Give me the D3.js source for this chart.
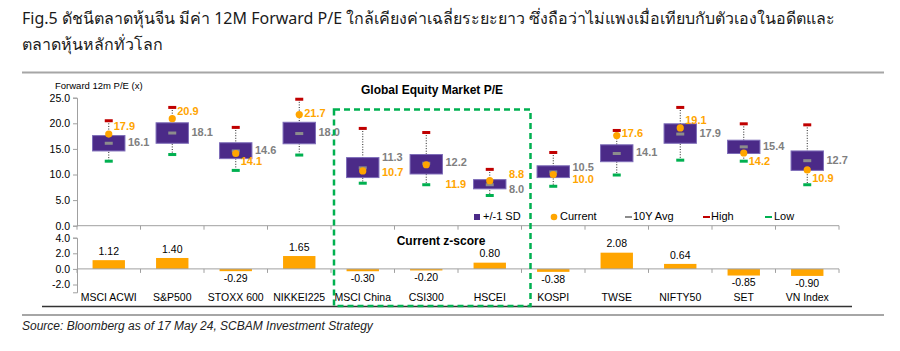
<!DOCTYPE html>
<html>
<head>
<meta charset="utf-8">
<script src="https://cdn.jsdelivr.net/npm/d3@7"></script>
<style>
  body { margin: 0; background: #fff; }
  svg { display: block; font-family: "Liberation Sans", Arial, sans-serif; }
</style>
</head>
<body>
<svg id="chart"></svg>
<script>
// ---- data ----
const categories = ['MSCI ACWI', 'S&P500', 'STOXX 600', 'NIKKEI225', 'MSCI China', 'CSI300',
    'HSCEI', 'KOSPI', 'TWSE', 'NIFTY50', 'SET', 'VN Index'];
const avgPE = [16.1, 18.1, 14.6, 18.0, 11.3, 12.2, 8.0, 10.5, 14.1, 17.9, 15.4, 12.7];
const currentPE = [17.9, 20.9, 14.1, 21.7, 10.7, 11.9, 8.8, 10.0, 17.6, 19.1, 14.2, 10.9];
const sdUpper = [17.6, 20.1, 16.2, 20.2, 13.3, 13.9, 9.0, 11.7, 15.8, 19.9, 16.7, 14.6];
const sdLower = [14.6, 16.1, 13.1, 16.0, 9.4, 10.1, 7.2, 9.4, 12.5, 16.1, 14.1, 10.8];
const highPE = [20.5, 23.1, 19.2, 24.7, 19.0, 18.2, 11.0, 14.3, 18.6, 23.1, 19.9, 19.7];
const lowPE = [12.6, 13.9, 10.8, 13.8, 8.3, 8.0, 5.9, 7.7, 9.9, 12.8, 12.6, 8.0];
const zScore = [1.12, 1.40, -0.29, 1.65, -0.30, -0.20, 0.80, -0.38, 2.08, 0.64, -0.85, -0.90];
const peTicks = [0, 5, 10, 15, 20, 25];
const zTicks = [-2, 0, 2, 4];
const chinaGroup = ['MSCI China', 'CSI300', 'HSCEI'];

// where the data labels sit (like excel's manual label nudges)
const curLabelPlace = ['dot-up', 'dot-up', 'dot-down', 'dot', 'box', 'box-low', 'box-up', 'box-lower',
    'dot', 'dot-up', 'dot-down', 'dot-down'];
const avgLabelPlace = ['mid', 'mid', 'mid', 'mid', 'up', 'mid', 'down', 'raised',
    'mid', 'mid', 'mid', 'mid'];

const W = 900, H = 351;
const purple = '#4b2a88', orange = '#ffa500', grey = '#8c8c8c', red = '#c00000', green = '#00b050';

// excel style hyphen minus instead of d3's unicode minus
const fmt = spec => v => d3.format(spec)(v).replace('\u2212', '-');

const svg = d3.select('#chart').attr('width', W).attr('height', H);

// title
const titleFont = '"Noto Sans", "DejaVu Sans", sans-serif';
svg.append('text').attr('x', 22).attr('y', 24)
    .attr('font-family', titleFont).attr('font-size', 16).attr('fill', '#1a1a1a')
    .text('Fig.5 ดัชนีตลาดหุ้นจีน มีค่า 12M Forward P/E ใกล้เคียงค่าเฉลี่ยระยะยาว ซึ่งถือว่าไม่แพงเมื่อเทียบกับตัวเองในอดีตและ');
svg.append('text').attr('x', 22).attr('y', 50)
    .attr('font-family', titleFont).attr('font-size', 16).attr('fill', '#1a1a1a')
    .text('ตลาดหุ้นหลักทั่วโลก');

// separator lines
svg.append('line').attr('x1', 22).attr('x2', 884).attr('y1', 72.5).attr('y2', 72.5)
    .attr('stroke', '#a6a6a6').attr('stroke-width', 2);
svg.append('line').attr('x1', 22).attr('x2', 884).attr('y1', 315).attr('y2', 315)
    .attr('stroke', '#a6a6a6').attr('stroke-width', 2);

svg.append('text').attr('x', 22).attr('y', 330)
    .attr('font-size', 12).attr('font-style', 'italic').attr('fill', '#222')
    .text('Source: Bloomberg as of 17 May 24, SCBAM Investment Strategy');

// scales
const x = d3.scaleBand().domain(categories).range([77, 839]);
const yPE = d3.scaleLinear().domain([0, 25]).range([225.7, 97.7]);
const yZ = d3.scaleLinear().domain([-3, 4]).range([292.3, 237.7]);

const boxW = x.bandwidth() * 0.51;
const cx = c => x(c) + x.bandwidth() / 2;

// ---------- top panel ----------
const pePanel = svg.append('g');

const yAxisTop = d3.axisLeft(yPE).tickValues(peTicks).tickFormat(fmt('.1f')).tickSize(4);
const gyTop = pePanel.append('g').attr('transform', 'translate(77,0)').call(yAxisTop);
gyTop.selectAll('text').attr('font-size', 10.5).attr('fill', '#000');
gyTop.selectAll('line, path').attr('stroke', '#a0a0a0');

// x axis line with ticks at the band edges
pePanel.append('line').attr('x1', 77).attr('x2', 839).attr('y1', yPE(0)).attr('y2', yPE(0))
    .attr('stroke', '#a0a0a0');
pePanel.selectAll('.edgeTick').data(categories.concat(['end']))
    .join('line')
    .attr('x1', (d, i) => 77 + i * x.bandwidth()).attr('x2', (d, i) => 77 + i * x.bandwidth())
    .attr('y1', yPE(0)).attr('y2', yPE(0) + 4)
    .attr('stroke', '#a0a0a0');

pePanel.append('text').attr('x', 55).attr('y', 89).attr('font-size', 9.5).attr('fill', '#000')
    .text('Forward 12m P/E (x)');
pePanel.append('text').attr('x', 432).attr('y', 94).attr('text-anchor', 'middle')
    .attr('font-size', 12).attr('font-weight', 'bold').attr('fill', '#000')
    .text('Global Equity Market P/E');

const peRows = categories.map((c, i) => ({
    c: c, avg: avgPE[i], cur: currentPE[i], hi: highPE[i], lo: lowPE[i],
    up: sdUpper[i], dn: sdLower[i], curPlace: curLabelPlace[i], avgPlace: avgLabelPlace[i]
}));

// high-low dotted whisker
pePanel.selectAll('.whisker').data(peRows).join('line')
    .attr('x1', d => cx(d.c)).attr('x2', d => cx(d.c))
    .attr('y1', d => yPE(d.hi)).attr('y2', d => yPE(d.lo))
    .attr('stroke', '#222').attr('stroke-width', 1).attr('stroke-dasharray', '1,1.6');

// +/-1 SD box
pePanel.selectAll('.sdbox').data(peRows).join('rect')
    .attr('x', d => cx(d.c) - boxW / 2).attr('width', boxW)
    .attr('y', d => yPE(d.up)).attr('height', d => yPE(d.dn) - yPE(d.up))
    .attr('fill', purple).attr('stroke', '#7d6cb8').attr('stroke-width', 1);

const dash = (cls, key, color, w) => {
    pePanel.selectAll('.' + cls).data(peRows).join('rect')
        .attr('class', cls)
        .attr('x', d => cx(d.c) - w / 2).attr('width', w)
        .attr('y', d => yPE(d[key]) - 1.5).attr('height', 3)
        .attr('fill', color);
};
dash('hi', 'hi', red, 8);
dash('lo', 'lo', green, 8);
dash('avg', 'avg', grey, 8);

pePanel.selectAll('.cur').data(peRows).join('circle')
    .attr('cx', d => cx(d.c)).attr('cy', d => yPE(d.cur)).attr('r', 3.6)
    .attr('fill', orange);

// labels
const avgDy = { mid: 0, up: -10, raised: -4, down: 5.5 };
pePanel.selectAll('.avgLabel').data(peRows).join('text')
    .attr('x', d => cx(d.c) + boxW / 2 + 3)
    .attr('y', d => yPE(d.avg) + avgDy[d.avgPlace])
    .attr('dominant-baseline', 'middle')
    .attr('font-size', 11).attr('font-weight', 'bold').attr('fill', '#7f7f7f')
    .text(d => fmt('.1f')(d.avg));

const curPos = {
    'dot-up': { box: false, dy: -7 }, 'dot': { box: false, dy: -1 }, 'dot-down': { box: false, dy: 9 },
    'box': { box: true, dy: 2 }, 'box-lower': { box: true, dy: 6 },
    'box-low': { box: true, dy: 20 }, 'box-up': { box: true, dy: -5.5 }
};
pePanel.selectAll('.curLabel').data(peRows).join('text')
    .attr('x', d => curPos[d.curPlace].box ? cx(d.c) + boxW / 2 + 3 : cx(d.c) + 5)
    .attr('y', d => yPE(d.cur) + curPos[d.curPlace].dy)
    .attr('dominant-baseline', 'middle')
    .attr('font-size', 11).attr('font-weight', 'bold').attr('fill', orange)
    .text(d => fmt('.1f')(d.cur));

// legend
const lg = pePanel.append('g').attr('font-size', 11).attr('fill', '#000');
const ly = 217;
lg.append('rect').attr('x', 474).attr('y', ly - 3).attr('width', 6).attr('height', 6).attr('fill', purple);
lg.append('text').attr('x', 483).attr('y', ly).attr('dominant-baseline', 'middle').text('+/-1 SD');
lg.append('circle').attr('cx', 554).attr('cy', ly).attr('r', 3.3).attr('fill', orange);
lg.append('text').attr('x', 560).attr('y', ly).attr('dominant-baseline', 'middle').text('Current');
lg.append('rect').attr('x', 625).attr('y', ly - 1).attr('width', 7).attr('height', 2).attr('fill', grey);
lg.append('text').attr('x', 633).attr('y', ly).attr('dominant-baseline', 'middle').text('10Y Avg');
lg.append('rect').attr('x', 703).attr('y', ly - 1).attr('width', 7).attr('height', 2).attr('fill', red);
lg.append('text').attr('x', 711).attr('y', ly).attr('dominant-baseline', 'middle').text('High');
lg.append('rect').attr('x', 765).attr('y', ly - 1).attr('width', 7).attr('height', 2).attr('fill', green);
lg.append('text').attr('x', 774).attr('y', ly).attr('dominant-baseline', 'middle').text('Low');

// ---------- bottom panel: z-score ----------
const zPanel = svg.append('g');
const yAxisBot = d3.axisLeft(yZ).tickValues(zTicks).tickFormat(fmt('.1f')).tickSize(4);
const gyBot = zPanel.append('g').attr('transform', 'translate(77,0)').call(yAxisBot);
gyBot.selectAll('text').attr('font-size', 10.5).attr('fill', '#000');
gyBot.selectAll('line, path').attr('stroke', '#a0a0a0');

zPanel.append('text').attr('x', 441).attr('y', 245).attr('text-anchor', 'middle')
    .attr('font-size', 12).attr('font-weight', 'bold').attr('fill', '#000')
    .text('Current z-score');

const zRows = categories.map((c, i) => ({ c: c, z: zScore[i] }));

zPanel.selectAll('.zbar').data(zRows).join('rect')
    .attr('x', d => cx(d.c) - boxW / 2).attr('width', boxW)
    .attr('y', d => yZ(Math.max(0, d.z)))
    .attr('height', d => Math.abs(yZ(d.z) - yZ(0)))
    .attr('fill', orange);

zPanel.append('line').attr('x1', 77).attr('x2', 839).attr('y1', yZ(0)).attr('y2', yZ(0))
    .attr('stroke', '#a0a0a0');
zPanel.selectAll('.edgeTick').data(categories.concat(['end']))
    .join('line')
    .attr('x1', (d, i) => 77 + i * x.bandwidth()).attr('x2', (d, i) => 77 + i * x.bandwidth())
    .attr('y1', yZ(0)).attr('y2', yZ(0) + 4)
    .attr('stroke', '#a0a0a0');

zPanel.selectAll('.zlabel').data(zRows).join('text')
    .attr('x', d => cx(d.c))
    .attr('y', d => d.z >= 0 ? yZ(d.z) - 8 : yZ(d.z) + 8)
    .attr('text-anchor', 'middle').attr('dominant-baseline', 'middle')
    .attr('font-size', 10.5).attr('fill', '#000')
    .text(d => fmt('.2f')(d.z));

zPanel.selectAll('.catLabel').data(categories).join('text')
    .attr('x', d => cx(d)).attr('y', 298)
    .attr('text-anchor', 'middle').attr('dominant-baseline', 'middle')
    .attr('font-size', 10.5).attr('fill', '#000')
    .text(d => d);

// dark base line under the panel
zPanel.append('line').attr('x1', 42).attr('x2', 852).attr('y1', 306.5).attr('y2', 306.5)
    .attr('stroke', '#333').attr('stroke-width', 1.5);

// highlight box around the china indices
const gx0 = x(chinaGroup[0]) + 3;
const gx1 = x(chinaGroup[chinaGroup.length - 1]) + x.bandwidth() + 9;
svg.append('rect').attr('x', gx0).attr('y', 109.5).attr('width', gx1 - gx0).attr('height', 196.5)
    .attr('fill', 'none').attr('stroke', green).attr('stroke-width', 2.5)
    .attr('stroke-dasharray', '6,4');
</script>
</body>
</html>
